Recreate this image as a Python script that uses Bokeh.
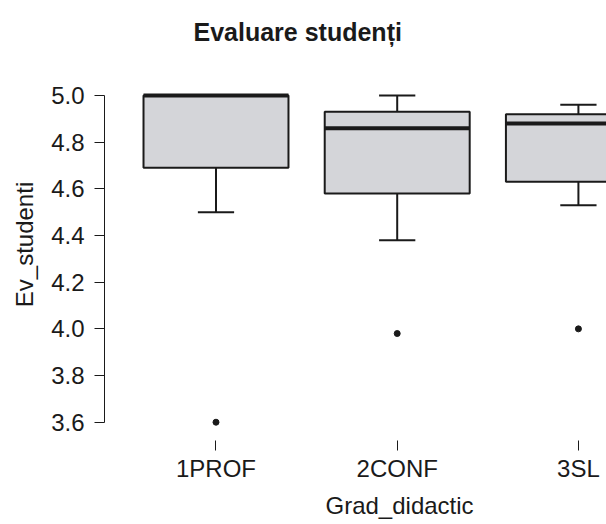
from bokeh.plotting import figure
from bokeh.models import Range1d, FixedTicker, ColumnDataSource, NumeralTickFormatter, Title
from bokeh.embed import file_html
from bokeh.resources import INLINE

# ---- data ----
categories = ["1PROF", "2CONF", "3SL"]
lower_whisker = [4.50, 4.38, 4.53]
q1 = [4.69, 4.58, 4.63]
median = [5.00, 4.86, 4.88]
q3 = [5.00, 4.93, 4.92]
upper_whisker = [5.00, 5.00, 4.96]
outlier_cat = ["1PROF", "2CONF", "3SL"]
outlier_val = [3.60, 3.98, 4.00]
y_ticks = [3.6, 3.8, 4.0, 4.2, 4.4, 4.6, 4.8, 5.0]

title_text = "Evaluare studenți"
x_label = "Grad_didactic"
y_label = "Ev_studenti"

# ---- styling ----
FONT = "Liberation Sans"
INK = "#1a1a1a"
BOX_FILL = "#d4d5d9"
BOX_W = 0.8
CAP_W = 0.2

pos = [i + 1 for i in range(len(categories))]
cat_pos = {c: p_ for c, p_ in zip(categories, pos)}

src = ColumnDataSource(dict(
    x=pos,
    left=[v - BOX_W / 2 for v in pos],
    right=[v + BOX_W / 2 for v in pos],
    cap_l=[v - CAP_W / 2 for v in pos],
    cap_r=[v + CAP_W / 2 for v in pos],
    lw=lower_whisker, q1=q1, med=median, q3=q3, uw=upper_whisker,
))
out_src = ColumnDataSource(dict(x=[cat_pos[c] for c in outlier_cat], y=outlier_val))

p = figure(width=606, height=524, output_backend="svg", toolbar_location=None,
           x_range=Range1d(0.3847, 3.155), y_range=Range1d(3.5216, 5.2014),
           min_border_left=104, min_border_right=0, min_border_top=48, min_border_bottom=84,
           outline_line_color=None, background_fill_color="white", border_fill_color="white")

p.xgrid.visible = False
p.ygrid.visible = False

# title
p.title.text = title_text
p.title.align = "left"
p.title.offset = 89
p.title.standoff = 5
p.title.text_font = FONT
p.title.text_font_size = "25px"
p.title.text_font_style = "bold"
p.title.text_color = INK

# whiskers
p.segment(x0="x", y0="q3", x1="x", y1="uw", source=src, line_color=INK, line_width=2)
p.segment(x0="x", y0="q1", x1="x", y1="lw", source=src, line_color=INK, line_width=2)
p.segment(x0="cap_l", y0="uw", x1="cap_r", y1="uw", source=src, line_color=INK, line_width=2)
p.segment(x0="cap_l", y0="lw", x1="cap_r", y1="lw", source=src, line_color=INK, line_width=2)
# boxes
p.quad(left="left", right="right", bottom="q1", top="q3", source=src,
       fill_color=BOX_FILL, line_color=INK, line_width=2)
# medians
p.segment(x0="left", y0="med", x1="right", y1="med", source=src, line_color=INK, line_width=4)
# outliers
p.scatter(x="x", y="y", source=out_src, size=6, fill_color=INK, line_color=INK)

# y axis
ya = p.yaxis[0]
ya.ticker = FixedTicker(ticks=y_ticks)
ya.formatter = NumeralTickFormatter(format="0.0")
ya.bounds = (3.6, 5.0)
ya.major_tick_out = 10
ya.major_tick_in = 0
ya.minor_tick_line_color = None
ya.major_label_standoff = 10
ya.major_label_text_font = FONT
ya.major_label_text_font_size = "24px"
ya.major_label_text_color = INK
ya.axis_line_color = INK
ya.major_tick_line_color = INK
ya.axis_label = y_label
ya.axis_label_text_font = FONT
ya.axis_label_text_font_size = "24px"
ya.axis_label_text_font_style = "normal"
ya.axis_label_text_color = INK
ya.axis_label_standoff = 10

# x axis (line hidden, only ticks + category labels, as in the original)
xa = p.xaxis[0]
xa.ticker = FixedTicker(ticks=pos)
xa.major_label_overrides = {float(v): c for v, c in zip(pos, categories)}
xa.axis_line_color = None
xa.major_tick_out = 10
xa.major_tick_in = 0
xa.minor_tick_line_color = None
xa.major_tick_line_color = INK
xa.major_label_standoff = 4
xa.major_label_text_font = FONT
xa.major_label_text_font_size = "24px"
xa.major_label_text_color = INK

# x-axis title, centred on the original (uncropped) plot region
p.add_layout(Title(text=x_label, align="left", offset=221, standoff=11,
                   vertical_align="bottom", text_font=FONT, text_font_size="24px",
                   text_font_style="normal", text_color=INK), "below")

open("out.html", "w").write(file_html(p, INLINE))
